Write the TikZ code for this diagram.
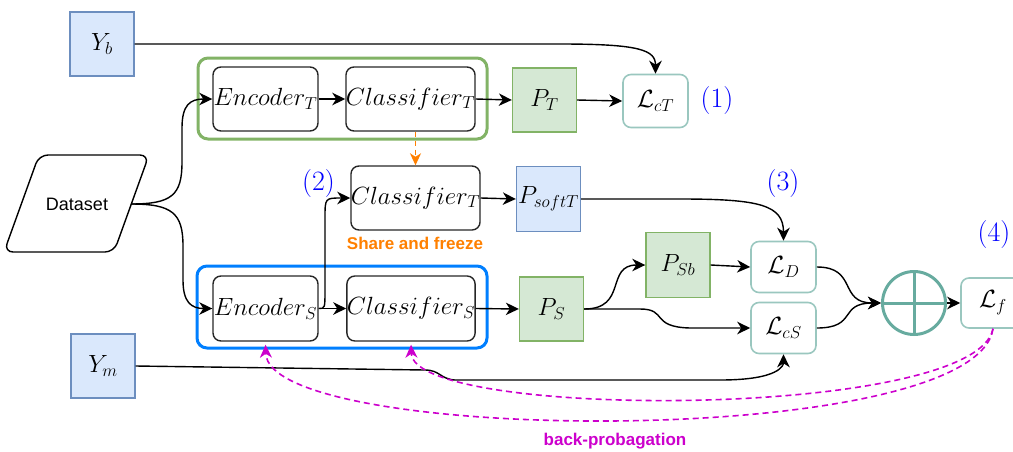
\documentclass[tikz,border=0pt]{standalone}
\usepackage{fontspec}
\setsansfont{Liberation Sans}
\usetikzlibrary{arrows.meta}
\definecolor{bfill}{HTML}{DAE8FC}
\definecolor{bdraw}{HTML}{6C8EBF}
\definecolor{gfill}{HTML}{D5E8D4}
\definecolor{gdraw}{HTML}{82B366}
\definecolor{tdraw}{HTML}{9AC7BF}
\definecolor{tcirc}{HTML}{67AB9F}
\definecolor{grpblue}{HTML}{007FFF}
\definecolor{orng}{HTML}{FF8000}
\definecolor{mgnt}{HTML}{CC00CC}
\begin{document}
\begin{tikzpicture}[x=1pt,y=-1pt,
  mfont/.style={font=\fontsize{23.5}{28}\selectfont},
  procbox/.style={draw=black!85, rounded corners=8pt, line width=1.4pt, inner sep=0pt, minimum height=64pt, mfont},
  bluebox/.style={draw=bdraw, fill=bfill, line width=1.4pt, inner sep=0pt, minimum width=64pt, minimum height=64pt, mfont},
  greenbox/.style={draw=gdraw, fill=gfill, line width=1.4pt, inner sep=0pt, minimum width=64pt, minimum height=64pt, mfont},
  lossbox/.style={draw=tdraw, rounded corners=8pt, line width=1.6pt, inner sep=0pt, minimum width=65pt, minimum height=51pt, mfont},
  grp/.style={rounded corners=10pt, line width=3pt},
  conn/.style={line width=1.4pt, -{Stealth[length=13pt,width=12.5pt,inset=4pt]}},
  num/.style={text=blue, font=\fontsize{28}{32}\selectfont},
  bp/.style={draw=mgnt, line width=1.6pt, dash pattern=on 6pt off 4pt, -{Stealth[length=13pt,width=12pt,inset=4pt,fill=mgnt]}},
]
\useasboundingbox (0,0) rectangle (1013,451);
\clip (0,0) rectangle (1013,451);

% groups
\draw[grp, draw=gdraw] (198,58) rectangle (487,139);
\draw[grp, draw=grpblue] (197,266) rectangle (487,348);

% dataset
\draw[rounded corners=9pt, line width=1.4pt] (60,252) -- (4,252) -- (39,155) -- (149,155) -- (114,252) -- cycle;
\node[font=\sffamily\fontsize{18}{22}\selectfont] (ds) at (77,204) {Dataset};
\coordinate (dsE) at (131,204);

% nodes
\node[bluebox] (Yb) at (102,44) {$Y_b$};
\node[bluebox] (Ym) at (103,366) {$Y_m$};
\node[procbox, minimum width=105pt] (EncT) at (265.5,99) {$Encoder_T$};
\node[procbox, minimum width=128pt] (ClsT) at (410.5,99) {$Classifier_T$};
\node[greenbox] (PT) at (544.5,100) {$P_T$};
\node[lossbox, minimum height=53pt] (LcT) at (655.5,101) {$\mathcal{L}_{cT}$};
\node[num] (n1) at (717,101) {(1)};

\node[procbox, minimum width=129pt] (ClsT2) at (415.5,198) {$Classifier_T$};
\node[bluebox, minimum height=65pt] (PsoftT) at (548.5,199) {$P_{softT}$};
\node[num] (n2) at (318.5,184) {(2)};
\node[text=orng, font=\sffamily\bfseries\fontsize{17}{20}\selectfont] (share) at (415,243) {Share and freeze};

\node[procbox, minimum width=105pt, minimum height=65pt] (EncS) at (265.5,308.5) {$Encoder_S$};
\node[procbox, minimum width=128pt, minimum height=65pt] (ClsS) at (411,308.5) {$Classifier_S$};
\node[greenbox] (PS) at (551.5,309) {$P_S$};
\node[greenbox, minimum height=65pt] (PSb) at (678,265) {$P_{Sb}$};
\node[lossbox] (LD) at (783.5,267) {$\mathcal{L}_D$};
\node[lossbox] (LcS) at (783.5,328) {$\mathcal{L}_{cS}$};
\node[num] (n3) at (783,184) {(3)};
\node[circle, draw=tcirc, line width=3pt, minimum size=63pt, inner sep=0pt] (sum) at (914,303) {};
\draw[tcirc, line width=3pt] (sum.north) -- (sum.south) (sum.west) -- (sum.east);
\node[lossbox, minimum width=64pt, minimum height=50pt] (Lf) at (993,303) {$\mathcal{L}_f$};
\node[num] (n4) at (994,235) {(4)};
\node[text=mgnt, font=\sffamily\bfseries\fontsize{17}{20}\selectfont] (bpl) at (615,441) {back-probagation};

% connectors
\draw[conn] (Yb.east) -- (560,44) .. controls (640,44) and (655.5,50) .. (LcT.north);
\draw[conn] (dsE) .. controls (172,204) and (182,195) .. (182,162) -- (182,128) .. controls (182,105) and (190,99) .. (EncT.west);
\draw[conn] (dsE) .. controls (172,204) and (183,213) .. (183,246) -- (183,280) .. controls (183,302) and (191,308.5) .. (EncS.west);
\draw[conn] (EncT.east) -- (ClsT.west);
\draw[conn] (ClsT.east) -- (PT.west);
\draw[conn] (PT.east) -- (LcT.west);
\draw[draw=orng, line width=1.5pt, dash pattern=on 5pt off 4pt, -{Stealth[length=12pt,width=11pt,inset=3.5pt,fill=orng]}] (ClsT2.north |- ClsT.south) -- (ClsT2.north);
\draw[conn] (EncS.east) .. controls (325,308.5) .. (325,290) -- (325,218) .. controls (325,198) .. (ClsT2.west);
\draw[conn] (EncS.east) -- (ClsS.west);
\draw[conn] (ClsS.east) -- (PS.west);
\draw[conn] (ClsT2.east) -- (PsoftT.west);
\draw[conn] (PsoftT.east) -- (680,199) .. controls (760,199) and (783.5,205) .. (LD.north);
\draw[conn] (PS.east) .. controls (628,309) and (605,265) .. (PSb.west);
\draw[conn] (PS.east) -- (640,309) .. controls (668,309) and (650,327) .. (690,328) -- (LcS.west);
\draw[conn] (PSb.east) -- (LD.west);
\draw[conn] (LD.east) .. controls (858,267) and (838,303) .. (sum.west);
\draw[conn] (LcS.east) .. controls (858,328) and (838,303) .. (sum.west);
\draw[conn] (sum.east) -- (Lf.west);
\draw[conn] (Ym.east) -- (425,370) .. controls (440,370) and (440,379) .. (455,380) -- (720,380) .. controls (780,380) and (783.5,365) .. (LcS.south);
\draw[bp, shorten >=3pt] (Lf.south) .. controls (975,450) and (268,445) .. (EncS.south);
\draw[bp, shorten >=3pt] (Lf.south) .. controls (975,420) and (413,420) .. (ClsS.south);
\end{tikzpicture}
\end{document}
